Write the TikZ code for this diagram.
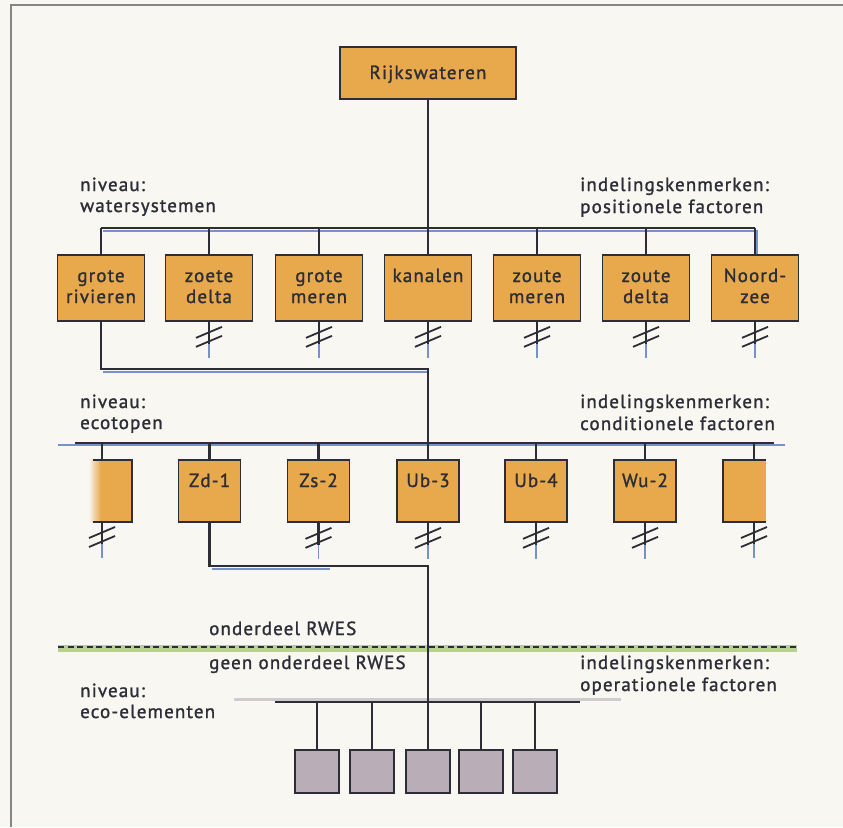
\documentclass[tikz,border=0pt]{standalone}
\usepackage{fontspec}
\setmainfont{PT Sans}[LetterSpace=6, FakeBold=1.3]
\usetikzlibrary{calc}
\definecolor{bg}{HTML}{F8F7F1}
\definecolor{ora}{HTML}{E8A84C}
\definecolor{ink}{HTML}{2C2D36}
\definecolor{shadowc}{HTML}{7A90CC}
\definecolor{mauve}{HTML}{B9AEB7}
\definecolor{grn}{HTML}{AFCB7E}
\definecolor{framec}{HTML}{858585}
\definecolor{greyshadow}{HTML}{CFCBCF}
\tikzset{
  boxline/.style={draw=ink, line width=1.7pt},
  sysbox/.style={boxline, fill=ora, minimum width=87pt, minimum height=66pt, inner sep=0pt},
  ecobox/.style={boxline, fill=ora, minimum width=62pt, minimum height=62pt, inner sep=0pt},
  elbox/.style={boxline, fill=mauve, minimum width=44pt, minimum height=43pt, inner sep=0pt},
  conn/.style={draw=ink, line width=2.3pt},
  shad/.style={draw=shadowc, line width=2pt},
  slash/.style={draw=ink, line width=1.8pt},
  txt/.style={text=ink, font=\fontsize{19}{21}\selectfont, inner sep=0pt},
  lbl/.style={txt, anchor=base west},
  btxt/.style={txt, anchor=base},
}
\begin{document}
\begin{tikzpicture}[x=1pt,y=-1pt]
\useasboundingbox (0,0) rectangle (843,827);
\fill[bg] (0,0) rectangle (843,827);
\draw[framec, line width=2pt] (11,827) -- (11,5) -- (843,5);

% ---------- level 1 ----------
\node[sysbox, minimum width=176pt, minimum height=52pt] (rijk) at (428,73) {};
\node[btxt] (rijkt) at (428,79) {Rijkswateren};

\coordinate (busAL) at (101,228);
\coordinate (busAR) at (755,228);

% ---------- labels ----------
\node[lbl] (l1a) at (80,191) {niveau:};
\node[lbl] (l1b) at (80,212) {watersystemen};
\node[lbl] (r1a) at (580,191) {indelingskenmerken:};
\node[lbl] (r1b) at (580,213) {positionele factoren};
\node[lbl] (l2a) at (80,408) {niveau:};
\node[lbl] (l2b) at (80,429) {ecotopen};
\node[lbl] (r2a) at (580,408) {indelingskenmerken:};
\node[lbl] (r2b) at (580,430) {conditionele factoren};
\node[lbl] (rw1) at (209,635) {onderdeel RWES};
\node[lbl] (rw2) at (209,669) {geen onderdeel RWES};
\node[lbl] (r3a) at (580,669) {indelingskenmerken:};
\node[lbl] (r3b) at (580,691) {operationele factoren};
\node[lbl] (l3a) at (80,697) {niveau:};
\node[lbl] (l3b) at (80,718) {eco-elementen};

% ---------- watersystems ----------
\foreach \n/\x/\a/\b in {gr/101/grote/rivieren, zd/209/zoete/delta, gm/319/grote/meren, ka/428/kanalen/{}, zm/537/zoute/meren, zdl/646/zoute/delta, nz/755/Noord-/zee}{
  \node[sysbox] (\n) at (\x,288) {};
  \node[btxt] (\n-t1) at (\x,282) {\a};
  \node[btxt] (\n-t2) at (\x,303) {\b};
}

% shadows of bus A and route 1
\draw[shad] ($(busAL)+(2,3)$) -- ($(busAR)+(2,3)$) -- ($(nz.north)+(2,0)$);
\coordinate (j1) at (428,369);
\draw[shad] ($(gr.south |- j1)+(2,3)$) -- ($(j1)+(0,3)$);

\draw[conn] (rijk.south) -- (rijk.south |- busAL);
\draw[conn] (busAL) -- (busAR);
\foreach \n in {gr,zd,gm,ka,zm,zdl,nz}{
  \draw[conn] (\n.north |- busAL) -- (\n.north);
}
% break marks
\foreach \n in {zd,gm,ka,zm,zdl,nz}{
  \draw[conn] (\n.south) -- ++(0,22) coordinate (\n-b);
  \draw[shad, line width=1.6pt] (\n-b) -- ++(0,14);
  \draw[slash] ([xshift=-13pt,yshift=-16pt]\n.south) -- ([xshift=13pt,yshift=-5pt]\n.south);
  \draw[slash] ([xshift=-13pt,yshift=-25pt]\n.south) -- ([xshift=13pt,yshift=-14pt]\n.south);
}

% ---------- ecotopes ----------
\coordinate (busBL) at (75,443);
\coordinate (busBR) at (774,443);
\draw[shad, line width=2.4pt] (58,445) -- (785,445);
\draw[conn] (gr.south) |- (j1) -- (j1 |- busBL);
\draw[conn] (busBL) -- (busBR);

\node[minimum width=43pt, minimum height=62pt, inner sep=0pt, fill=ora] (e1) at (110.5,491) {};
\shade[left color=bg, right color=ora] (e1.north west) rectangle ([xshift=12pt]e1.south west);
\draw[boxline] ([xshift=4pt]e1.north west) -- (e1.north east) -- (e1.south east) -- ([xshift=4pt]e1.south west);

\node[minimum width=43pt, minimum height=62pt, inner sep=0pt, fill=ora] (e7) at (744.5,491) {};
\draw[boxline] (e7.north east) -- (e7.north west) -- (e7.south west) -- (e7.south east);

\foreach \n/\x/\t in {e2/209.5/Zd-1, e3/318.5/Zs-2, e4/428/Ub-3, e5/536/Ub-4, e6/645/Wu-2}{
  \node[ecobox] (\n) at (\x,491) {};
  \node[btxt] (\n-t) at (\x,487) {\t};
}

\coordinate (d1) at (102,460);
\coordinate (d7) at (754,460);
\draw[conn] (d1 |- busBL) -- (d1);
\draw[conn] (d7 |- busBL) -- (d7);
\foreach \n in {e2,e3,e4,e5,e6}{
  \draw[conn] (\n.north |- busBL) -- (\n.north);
}
\coordinate (b1) at (102,522);
\coordinate (b7) at (754,522);
\foreach \n in {b1,e3.south,e4.south,e5.south,e6.south,b7}{
  \draw[conn] (\n) -- ++(0,22) coordinate (tmpb);
  \draw[shad, line width=1.6pt] (tmpb) -- ++(0,14);
  \draw[slash] ([xshift=-13pt,yshift=-16pt]\n) -- ([xshift=13pt,yshift=-5pt]\n);
  \draw[slash] ([xshift=-13pt,yshift=-25pt]\n) -- ([xshift=13pt,yshift=-14pt]\n);
}

% ---------- RWES boundary ----------
\draw[grn, line width=7pt, opacity=0.85] (58,648) -- (797,648);
\draw[ink, line width=1.5pt, dash pattern=on 6pt off 3.5pt] (58,647) -- (797,647);

% ---------- eco-elements ----------
\coordinate (j2) at (428,566);
\coordinate (busCL) at (275,702);
\coordinate (busCR) at (580,702);
\draw[shad] ($(e2.south |- j2)+(2,3)$) -- ($(e2.south |- j2)+(120,3)$);
\draw[greyshadow, line width=3pt] (234,699) -- (621,699);
\draw[conn] (e2.south) |- (j2) -- (j2 |- busCL);
\draw[conn] (busCL) -- (busCR);

\foreach \n/\x in {el1/317, el2/372, el3/428, el4/481, el5/535}{
  \node[elbox] (\n) at (\x,771.5) {};
  \draw[conn] (\n.north |- busCL) -- (\n.north);
}
\end{tikzpicture}
\end{document}
